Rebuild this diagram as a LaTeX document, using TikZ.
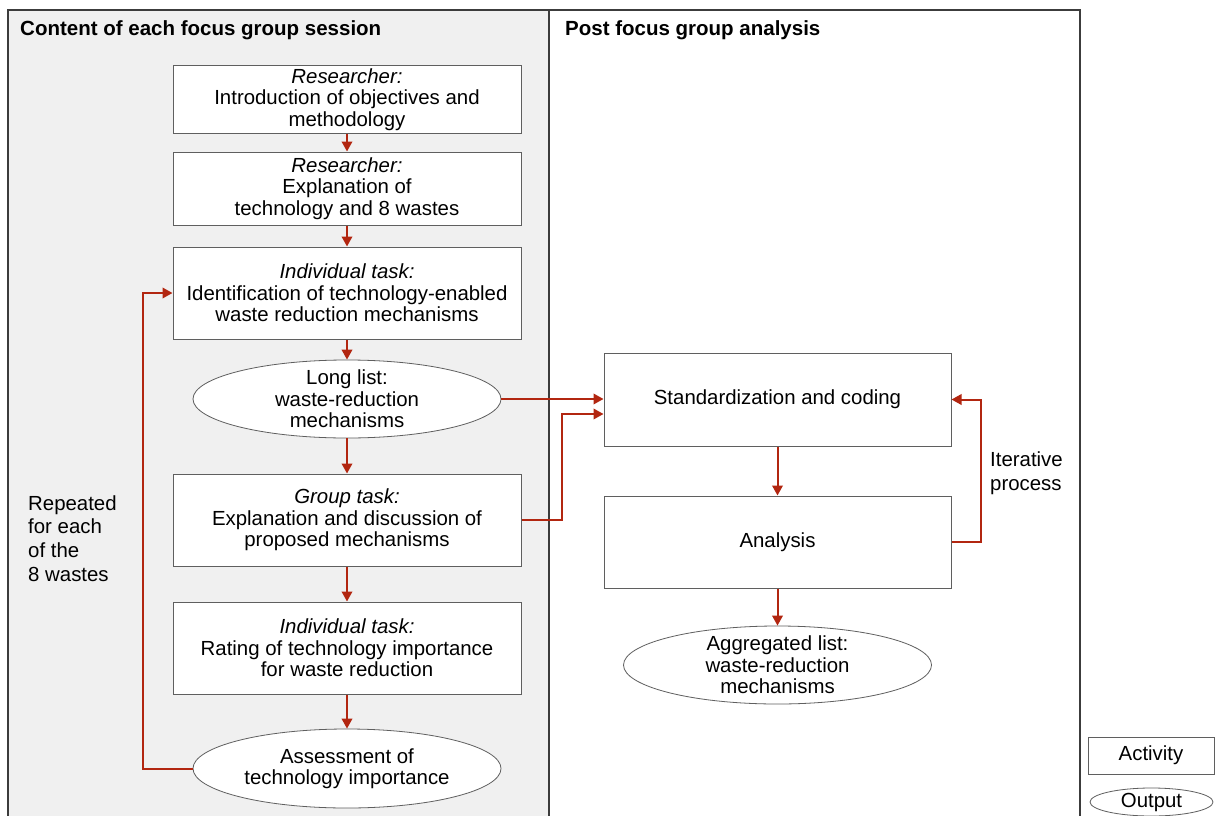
\documentclass[tikz,border=0pt]{standalone}
\usepackage{fontspec}
\setmainfont{Liberation Sans}
\usetikzlibrary{arrows.meta,shapes.geometric}
\definecolor{panelgray}{RGB}{240,240,240}
\definecolor{arrowred}{RGB}{178,38,16}
\definecolor{framegray}{RGB}{60,60,60}
\definecolor{boxgray}{RGB}{95,95,95}
\begin{document}
\begin{tikzpicture}[x=1pt,y=-1pt,
  basefont/.style={font=\fontsize{20.4}{21.5}\selectfont},
  activity/.style={basefont, draw=boxgray, line width=1pt, fill=white, rectangle,
    minimum width=348pt, align=center, inner sep=0pt},
  outshape/.style={draw=boxgray, line width=0.8pt, fill=white, ellipse, inner sep=0pt},
  outtext/.style={basefont, align=center, inner sep=0pt},
  flow/.style={draw=arrowred, line width=2pt, -{Triangle[length=10pt,width=10.5pt]}},
  sidelabel/.style={inner sep=0pt, anchor=west, align=left},
  heading/.style={inner sep=0pt, anchor=west, font=\fontsize{20.5}{22}\selectfont\bfseries}
]
\useasboundingbox (0,0) rectangle (1215,816);
\clip (0,0) rectangle (1215,816);
% panels
\fill[white] (0,0) rectangle (1215,816);
\fill[panelgray] (8,10) rectangle (549,830);
\draw[framegray, line width=1.4pt] (8,10) rectangle (1080,830);
\draw[framegray, line width=1.4pt] (549,10) -- (549,830);
\node[heading] (h1) at (20,30) {Content of each focus group session};
\node[heading] (h2) at (565,30) {Post focus group analysis};
% left column
\node[activity, minimum height=67pt] (b1) at (347,99.5) {\textit{Researcher:}\\Introduction of objectives and\\methodology};
\node[activity, minimum height=73pt] (b2) at (347,188.5) {\textit{Researcher:}\\Explanation of\\technology and 8 wastes};
\node[activity, minimum height=92pt] (b3) at (347,293) {\textit{Individual task:}\\Identification of technology-enabled\\waste reduction mechanisms};
\node[outshape, minimum width=308pt, minimum height=78pt] (e1) at (347,399) {};
\node[outtext] (e1t) at (e1.center) {Long list:\\waste-reduction\\mechanisms};
\node[activity, minimum height=92pt] (b4) at (347,520) {\textit{Group task:}\\Explanation and discussion of\\proposed mechanisms};
\node[activity, minimum height=92pt] (b5) at (347,648) {\textit{Individual task:}\\Rating of technology importance\\for waste reduction};
\node[outshape, minimum width=308pt, minimum height=79pt] (e2) at (347,768.5) {};
\node[outtext] (e2t) at (e2.center) {Assessment of\\technology importance};
\node[sidelabel, font=\fontsize{20.4}{23.6}\selectfont] (rep) at (28,538.5) {Repeated\\for each\\of the\\8 wastes};
% right column
\node[activity, minimum width=347pt, minimum height=93pt] (s1) at (777.5,399.5) {Standardization and coding};
\node[activity, minimum width=347pt, minimum height=92pt] (an) at (777.5,542) {Analysis};
\node[outshape, minimum width=308pt, minimum height=78pt] (e3) at (777.5,665) {};
\node[outtext] (e3t) at (e3.center) {Aggregated list:\\waste-reduction\\mechanisms};
\node[sidelabel, font=\fontsize{20.4}{24}\selectfont] (it) at (990,473) {Iterative\\process};
% legend
\node[activity, minimum width=126pt, minimum height=37pt] (lg1) at (1151,755.5) {Activity};
\node[outshape, minimum width=123pt, minimum height=28pt] (lg2) at (1151.5,802) {};
\node[outtext] (lg2t) at (lg2.center) {Output};
% connectors
\coordinate (loopx) at (143,0);
\coordinate (jx) at (562,0);
\coordinate (itx) at (981,0);
\draw[flow] (b1) -- (b2);
\draw[flow] (b2) -- (b3);
\draw[flow] (b3) -- (e1);
\draw[flow] (e1) -- (b4);
\draw[flow] (b4) -- (b5);
\draw[flow] (b5) -- (e2);
\draw[flow] (e2.west) -- (e2.west -| loopx) -- (b3.west -| loopx) -- (b3.west);
\draw[flow] (e1.east) -- (e1.east -| s1.west);
\draw[flow] (b4.east) -- (b4.east -| jx) -- ([yshift=-14.5pt]s1.west -| jx) -- ([yshift=-14.5pt]s1.west);
\draw[flow] (s1) -- (an);
\draw[flow] (an) -- (e3);
\draw[flow] (an.east) -- (an.east -| itx) -- (s1.east -| itx) -- (s1.east);
\end{tikzpicture}
\end{document}
